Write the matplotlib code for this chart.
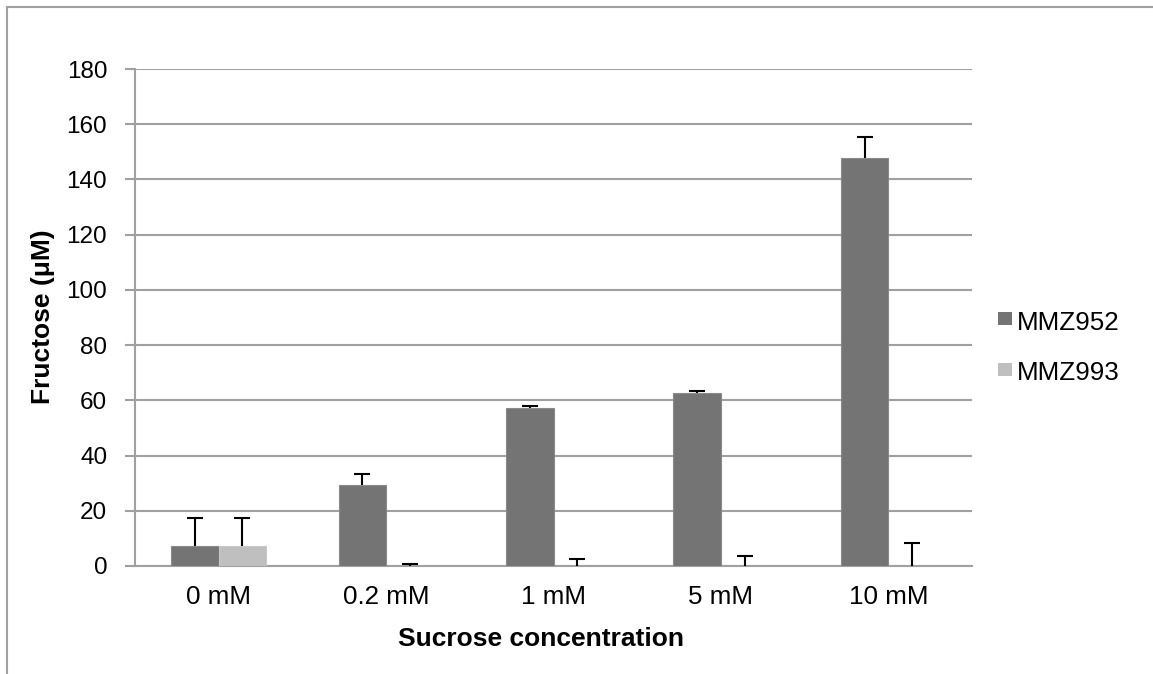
import matplotlib
matplotlib.use("Agg")
import matplotlib.pyplot as plt
import numpy as np
from matplotlib.lines import Line2D
from matplotlib.patches import Rectangle

plt.rcParams['font.family'] = ['Liberation Sans', 'DejaVu Sans']

categories = ["0 mM", "0.2 mM", "1 mM", "5 mM", "10 mM"]
series_names = ["MMZ952", "MMZ993"]
mmz952 = [7.4, 29.3, 57.1, 62.7, 147.7]
mmz952_err = [10.1, 4.0, 0.8, 0.8, 7.6]
mmz993 = [7.4, 0.0, 0.0, 0.0, 0.0]
mmz993_err = [10.1, 0.9, 2.4, 3.7, 8.2]
yticks = [0, 20, 40, 60, 80, 100, 120, 140, 160, 180]

W, H = 1153, 674
fig = plt.figure(figsize=(W / 100, H / 100), dpi=100)
ax = fig.add_axes([135 / W, 1 - 566 / H, (972 - 135) / W, (566 - 69) / H])

grid_col = "#a0a0a0"
dark = "#747474"
light = "#bfbfbf"
colors = [dark, light]

x = np.arange(len(categories))
bw = 0.284
ax.bar(x - bw / 2, mmz952, bw, color=dark, edgecolor="#8a8a8a", linewidth=0.8, zorder=3)
ax.bar(x + bw / 2, mmz993, bw, color=light, edgecolor="#c8c8c8", linewidth=0.8, zorder=3)
for xs, vals, errs in [(x - bw / 2, mmz952, mmz952_err), (x + bw / 2, mmz993, mmz993_err)]:
    vals = np.array(vals)
    tops = vals + np.array(errs)
    ax.vlines(xs, vals, tops, color="black", linewidth=1.5, zorder=4)
    ax.plot(xs, tops, ls="none", marker="_", ms=11.5, mew=1.5, color="black", zorder=4)

ax.set_xlim(-0.5, len(categories) - 0.5)
ax.set_ylim(0, 180)
ax.set_yticks(yticks)
ax.set_xticks(x)
ax.set_xticklabels(categories)
ax.yaxis.grid(True, color=grid_col, linewidth=1.5, zorder=0)
ax.set_axisbelow(True)
for s in ["top", "right"]:
    ax.spines[s].set_visible(False)
for s in ["left", "bottom"]:
    ax.spines[s].set_color(grid_col)
    ax.spines[s].set_linewidth(1.5)
ax.tick_params(axis="y", length=7, width=1.5, color=grid_col, labelsize=17.5, pad=13)
ax.tick_params(axis="x", length=0, labelsize=18.7, pad=14)

fig.text(43 / W, 1 - 317 / H, "Fructose (\u03bcM)", rotation=90, fontsize=19, fontweight="bold",
         ha="center", va="center")
fig.text(541.5 / W, 1 - 646 / H, "Sucrose concentration", fontsize=19, fontweight="bold",
         ha="center", va="baseline")

# legend (manual layout)
leg_base = [330, 380.5]
for name, col, base in zip(series_names, colors, leg_base):
    fig.add_artist(Rectangle((998 / W, 1 - (base - 5) / H), 14 / W, 13 / H,
                             facecolor=col, edgecolor="none", transform=fig.transFigure))
    fig.text(1017 / W, 1 - base / H, name, fontsize=18.7, ha="left", va="baseline")

fig.add_artist(Line2D([7 / W, 1], [1 - 7 / H, 1 - 7 / H], color=grid_col, linewidth=1.5,
                      transform=fig.transFigure))
fig.add_artist(Line2D([7 / W, 7 / W], [0, 1 - 7 / H], color=grid_col, linewidth=1.5,
                      transform=fig.transFigure))

fig.savefig("out.png", dpi=100)
